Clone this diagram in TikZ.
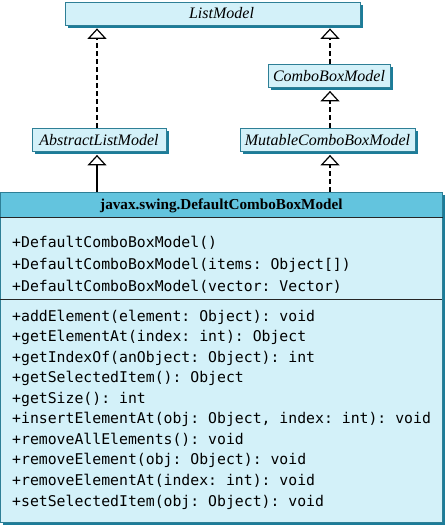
\documentclass[tikz,border=0pt]{standalone}
\usepackage{fontspec}
\setmainfont{Liberation Serif}
\newfontfamily\monof{DejaVu Sans Mono}
\usetikzlibrary{arrows.meta,calc}
\definecolor{boxfill}{HTML}{D3F1F9}
\definecolor{headfill}{HTML}{63C4DE}
\definecolor{shadowc}{HTML}{1C7C99}
\definecolor{edgec}{HTML}{2E7F96}
\begin{document}
\begin{tikzpicture}[x=1pt,y=-1pt,
  shadowed/.style={preaction={fill=shadowc, transform canvas={shift={(3pt,-3pt)}}}},
  iface/.style={shadowed, draw=edgec, line width=0.8pt, fill=boxfill,
    font=\fontsize{16}{16}\selectfont\itshape, inner sep=0pt,
    text height=10.6pt, text depth=0pt, minimum height=23pt},
  member/.style={anchor=base west, inner sep=0pt, font=\monof\fontsize{14.8}{16}\selectfont\frenchspacing},
  realize/.style={line width=1.2pt, dash pattern=on 5pt off 3pt,
    -{Triangle[width=19pt,length=10.5pt,fill=white,line width=1.2pt]}},
  extend/.style={line width=1.2pt,
    -{Triangle[width=19pt,length=10.5pt,fill=white,line width=1.2pt]}}]
\useasboundingbox (0,0) rectangle (445,526);
% interface / class boxes
\node[iface, minimum width=295pt] (lm) at (212.5,13.5) {\hspace*{18pt}ListModel};
\node[iface, minimum width=122pt] (cbm) at (329,76) {ComboBoxModel};
\node[iface, minimum width=134pt] (alm) at (99,140) {AbstractListModel};
\node[iface, minimum width=175pt] (mcbm) at (327.5,140) {MutableComboBoxModel};
% main class
\node[shadowed, draw=edgec, line width=0.8pt, fill=boxfill, minimum width=442pt,
  minimum height=330pt, anchor=north west, inner sep=0pt] (main) at (0,192) {};
\node[fill=headfill, draw=edgec, line width=0.8pt, minimum width=442pt, minimum height=25pt,
  anchor=north west, inner sep=0pt, text height=9.9pt, text depth=0pt,
  font=\fontsize{15.2}{15}\selectfont\bfseries] (head) at (0,192) {javax.swing.DefaultComboBoxModel};
\draw[line width=1.2pt, black!85] (head.south west) -- (head.south east);
\coordinate (sepw) at (0,299);
\coordinate (sepe) at (442,299);
\draw[line width=1pt, black!85] (sepw) -- (sepe);
% constructors
\node[member] (c1) at (12,247.7) {+DefaultComboBoxModel()};
\node[member] (c2) at (12,269.4) {+DefaultComboBoxModel(items: Object[])};
\node[member] (c3) at (12,291.1) {+DefaultComboBoxModel(vector: Vector)};
% methods
\node[member] (m1) at (12,321.1) {+addElement(element: Object): void};
\node[member] (m2) at (12,341.65) {+getElementAt(index: int): Object};
\node[member] (m3) at (12,362.2) {+getIndexOf(anObject: Object): int};
\node[member] (m4) at (12,382.75) {+getSelectedItem(): Object};
\node[member] (m5) at (12,403.3) {+getSize(): int};
\node[member] (m6) at (12,423.85) {+insertElementAt(obj: Object, index: int): void};
\node[member] (m7) at (12,444.4) {+removeAllElements(): void};
\node[member] (m8) at (12,464.95) {+removeElement(obj: Object): void};
\node[member] (m9) at (12,485.5) {+removeElementAt(index: int): void};
\node[member] (m10) at (12,506.05) {+setSelectedItem(obj: Object): void};
% connectors
\coordinate (lx) at (97,0);
\coordinate (rx) at (330,0);
\draw[realize] (alm.north -| lx) -- ($(lm.south -| lx)+(0,3)$);
\draw[realize] (cbm.north -| rx) -- ($(lm.south -| rx)+(0,3)$);
\draw[realize] (mcbm.north -| rx) -- ($(cbm.south -| rx)+(0,3)$);
\draw[realize] (main.north -| rx) -- ($(mcbm.south -| rx)+(0,3)$);
\draw[extend] (main.north -| lx) -- ($(alm.south -| lx)+(0,3)$);
\end{tikzpicture}
\end{document}
